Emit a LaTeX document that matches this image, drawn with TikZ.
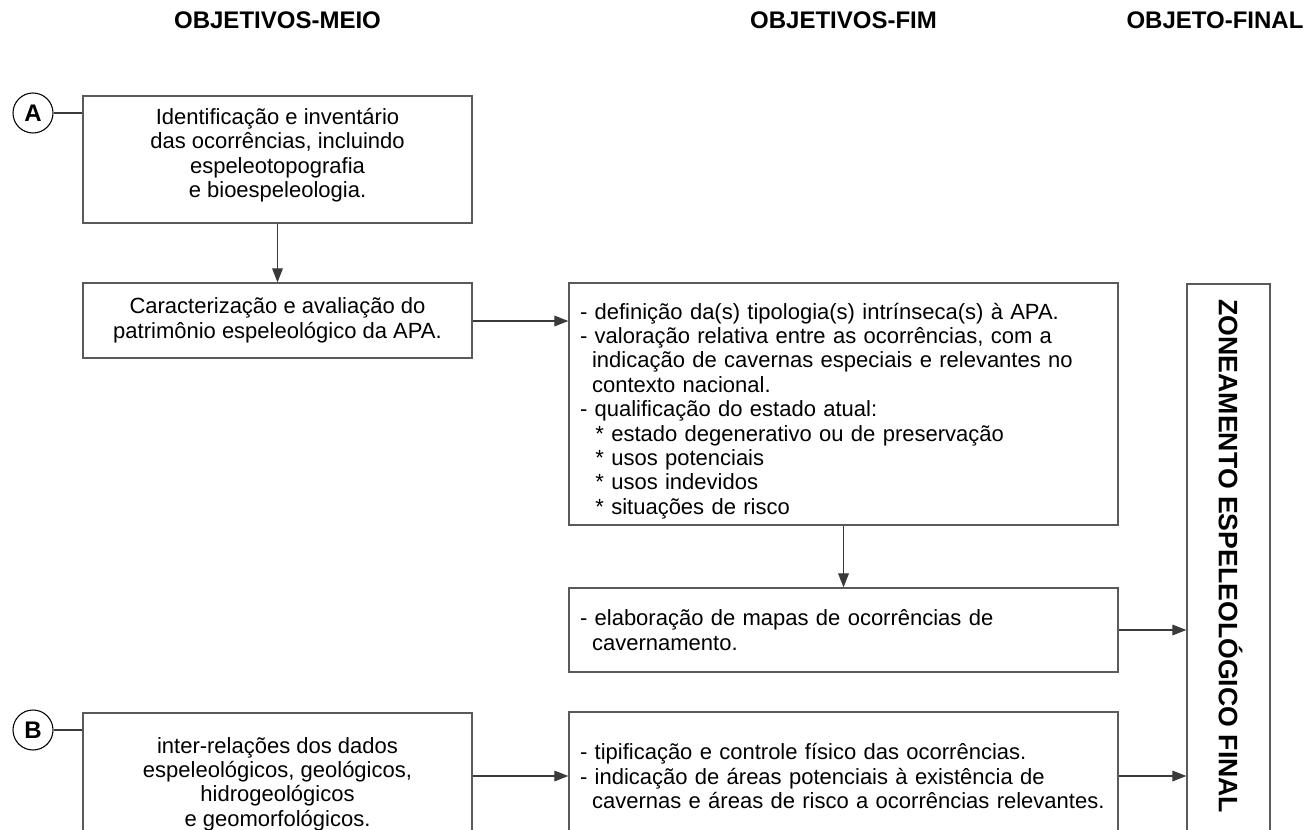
\documentclass[tikz,border=0pt]{standalone}
\usepackage{fontspec}
\setmainfont{Liberation Sans}
\usetikzlibrary{arrows.meta,calc}
\definecolor{boxgray}{HTML}{5A5A5A}
\definecolor{linegray}{HTML}{3A3A3A}
\begin{document}
\begin{tikzpicture}[x=0.75pt,y=-0.75pt,
  box/.style={draw=boxgray,line width=1pt,rectangle,inner sep=0pt},
  btext/.style={inner sep=0pt,font=\fontsize{16.5}{18.3}\selectfont},
  header/.style={font=\bfseries\fontsize{18}{20}\selectfont,inner sep=0pt},
  circ/.style={draw=black,line width=0.8pt,circle,minimum size=30pt,inner sep=0pt,
    font=\bfseries\fontsize{18}{18}\selectfont},
  conn/.style={draw=linegray,line width=0.9pt},
  arr/.style={conn,-{Triangle[length=10.5pt,width=8pt]}}]
\useasboundingbox (0,0) rectangle (1308,830);
\clip (0,0) rectangle (1308,830);
\fill[white] (0,0) rectangle (1308,830);

% headers
\node[header] (h1) at (277.5,20) {OBJETIVOS-MEIO};
\node[header] (h2) at (843.5,20) {OBJETIVOS-FIM};
\node[header] (h3) at (1215,20) {OBJETO-FINAL};

% boxes
\node[box,minimum width=389*0.75pt,minimum height=127*0.75pt] (bA) at (277.5,159.5) {};
\node[btext,align=center] (tA) at (277.5,155) 
  {Identificação e inventário\\das ocorrências, incluindo\\espeleotopografia\\e bioespeleologia.};
\node[box,minimum width=389*0.75pt,minimum height=75*0.75pt] (b2) at (277.5,320.5) {};
\node[btext,align=center] (t2) at (277.5,320.5)
  {Caracterização e avaliação do\\patrimônio espeleológico da APA.};
\node[box,minimum width=549*0.75pt,minimum height=242*0.75pt] (b3) at (843.5,404) {};
\node[btext,text width=527*0.75pt,align=left] (t3) at (843.5,411)
  {- definição da(s) tipologia(s) intrínseca(s) à APA.\\
   - valoração relativa entre as ocorrências, com a\\
   \hspace*{0.55em}indicação de cavernas especiais e relevantes no\\
   \hspace*{0.55em}contexto nacional.\\
   - qualificação do estado atual:\\
   \hspace*{0.7em}* estado degenerativo ou de preservação\\
   \hspace*{0.7em}* usos potenciais\\
   \hspace*{0.7em}* usos indevidos\\
   \hspace*{0.7em}* situações de risco};
\node[box,minimum width=549*0.75pt,minimum height=84*0.75pt] (b4) at (843.5,630) {};
\node[btext,text width=527*0.75pt,align=left] (t4) at (843.5,630)
  {- elaboração de mapas de ocorrências de\\
   \hspace*{0.55em}cavernamento.};
\node[box,minimum width=389*0.75pt,minimum height=142*0.75pt] (bB) at (277.5,784) {};
\node[btext,align=center] (tB) at (277.5,784)
  {inter-relações dos dados\\espeleológicos, geológicos,\\hidrogeológicos\\e geomorfológicos.};
\node[box,minimum width=549*0.75pt,minimum height=128*0.75pt] (b5) at (843.5,776) {};
\node[btext,text width=527*0.75pt,align=left] (t5) at (843.5,776)
  {- tipificação e controle físico das ocorrências.\\
   - indicação de áreas potenciais à existência de\\
   \hspace*{0.55em}cavernas e áreas de risco a ocorrências relevantes.};
\node[box,minimum width=83*0.75pt,minimum height=576*0.75pt] (fin) at (1228.5,572) {};
\node[font=\bfseries\fontsize{20}{22}\selectfont,rotate=-90,anchor=west,inner sep=0pt]
  (finT) at ($(fin.north)+(2,16)$) {ZONEAMENTO ESPELEOLÓGICO FINAL};

% circles
\node[circ] (cA) at (33,113) {A};
\node[circ] (cB) at (33,730) {B};

% connectors
\draw[conn] (cA.east) -- (cA.east -| bA.west);
\draw[conn] (cB.east) -- (cB.east -| bB.west);
\draw[arr] (bA.south) -- (b2.north);
\draw[arr] ($(b2.east)+(0,0.5)$) -- ($(b2.east -| b3.west)+(0,0.5)$);
\draw[arr] (b3.south) -- (b4.north);
\draw[arr] (b4.east) -- (b4.east -| fin.west);
\draw[arr] (b5.west -| bB.east) -- (b5.west);
\draw[arr] (b5.east) -- (b5.east -| fin.west);
\end{tikzpicture}
\end{document}
